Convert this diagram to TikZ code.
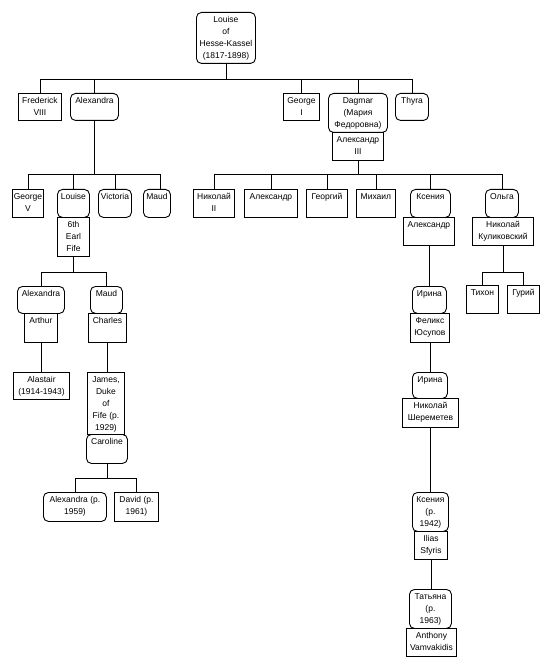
\documentclass[tikz,border=0pt]{standalone}
\usepackage{fontspec}
\setmainfont{Liberation Sans}
\usetikzlibrary{positioning}
\newcommand{\pcell}[3]{\parbox[c][#2pt][t]{#1pt}{\vspace*{1.5pt}\makebox[#1pt]{\begin{tabular}[t]{@{}c@{}}#3\end{tabular}}}}

\begin{document}
\begin{tikzpicture}[x=1pt,y=-1pt,
    font=\fontsize{8.5}{12}\selectfont,
    person/.style={draw,line width=0.9pt,inner sep=0pt,anchor=north west},
    fem/.style={person,rounded corners=5pt},
    mal/.style={person},
    link/.style={line width=0.9pt}]
  \useasboundingbox[fill=white] (0,0) rectangle (550,668);

  % --- Louise and her children ---
  \node[fem] (louise) at (196,12) {\pcell{59}{51}{Louise\\of\\Hesse-Kassel\\(1817-1898)}};
  \node[mal] (fred)    at (18,93)  {\pcell{43}{27}{Frederick\\VIII}};
  \node[fem] (alexa)   at (70,93)  {\pcell{48}{27}{Alexandra}};
  \node[mal] (george1) at (283,93) {\pcell{36}{27}{George\\I}};
  \node[fem] (dagmar)  at (328,93) {\pcell{59}{39}{Dagmar\\(Мария\\Федоровна)}};
  \node[fem] (thyra)   at (395,93) {\pcell{33}{27}{Thyra}};
  \node[mal] (alex3)   at (332,132) {\pcell{51}{28}{Александр\\III}};
  \coordinate (bar0) at (0,79);
  \draw[link] (louise.south) -- (louise.south |- bar0);
  \draw[link] (fred.north |- bar0) -- (thyra.north |- bar0);
  \foreach \c in {fred,alexa,george1,dagmar,thyra}
    \draw[link] (\c.north) -- (\c.north |- bar0);

  % --- Alexandra's children ---
  \node[mal] (georgev)  at (12,189)  {\pcell{31}{28}{George\\V}};
  \node[fem] (louise2)  at (57,189)  {\pcell{32}{28}{Louise}};
  \node[fem] (victoria) at (98,189)  {\pcell{33}{28}{Victoria}};
  \node[fem] (maud)     at (143,189) {\pcell{27}{28}{Maud}};
  \node[mal] (fife)     at (57,217)  {\pcell{32}{39}{6th\\Earl\\Fife}};
  \coordinate (bar1) at (0,174);
  \draw[link] (alexa.south) -- (alexa.south |- bar1);
  \draw[link] (georgev.north |- bar1) -- ([xshift=3pt]maud.north |- bar1);
  \foreach \c in {georgev,louise2,victoria}
    \draw[link] (\c.north) -- (\c.north |- bar1);
  \draw[link] ([xshift=3pt]maud.north) -- ([xshift=3pt]maud.north |- bar1);

  % --- Dagmar's children ---
  \node[mal] (nik2)    at (193,189) {\pcell{41}{28}{Николай\\II}};
  \node[mal] (alexr)   at (244,189) {\pcell{53}{28}{Александр}};
  \node[mal] (georgiy) at (306,189) {\pcell{41}{28}{Георгий}};
  \node[mal] (mikhail) at (356,189) {\pcell{39}{28}{Михаил}};
  \node[fem] (ksenia)  at (410,189) {\pcell{40}{28}{Ксения}};
  \node[mal] (alexm)   at (403,217) {\pcell{51}{28}{Александр}};
  \node[fem] (olga)    at (485,189) {\pcell{33}{28}{Ольга}};
  \node[mal] (kulik)   at (472,217) {\pcell{61}{28}{Николай\\Куликовский}};
  \draw[link] (alex3.south) -- (alex3.south |- bar1);
  \draw[link] (nik2.north |- bar1) -- (olga.north |- bar1);
  \foreach \c in {nik2,alexr,georgiy,mikhail,ksenia,olga}
    \draw[link] (\c.north) -- (\c.north |- bar1);

  % --- line of the Earl of Fife ---
  \node[fem] (alexandra2) at (17,286)  {\pcell{47}{27}{Alexandra}};
  \node[mal] (arthur)     at (24,313)  {\pcell{33}{29}{Arthur}};
  \node[fem] (maud2)      at (90,286)  {\pcell{32}{27}{Maud}};
  \node[mal] (charles)    at (88,313)  {\pcell{38}{29}{Charles}};
  \node[mal] (alastair)   at (13,372)  {\pcell{56}{27}{Alastair\\(1914-1943)}};
  \node[mal] (james)      at (87,372)  {\pcell{37}{62}{James,\\Duke\\of\\Fife (р.\\1929)}};
  \node[fem] (caroline)   at (86,434)  {\pcell{41}{29}{Caroline}};
  \node[fem] (alex59)     at (43,492)  {\pcell{63}{29}{Alexandra (р.\\1959)}};
  \node[mal] (david)      at (114,492) {\pcell{44}{29}{David (р.\\1961)}};
  \coordinate (bar2) at (0,272);
  \draw[link] (fife.south) -- (fife.south |- bar2);
  \draw[link] (alexandra2.north |- bar2) -- (maud2.north |- bar2);
  \foreach \c in {alexandra2,maud2}
    \draw[link] (\c.north) -- (\c.north |- bar2);
  \draw[link] (arthur.south) -- (arthur.south |- alastair.north);
  \draw[link] (charles.south) -- (charles.south |- james.north);
  \coordinate (bar3) at (0,478);
  \draw[link] (caroline.south) -- (caroline.south |- bar3);
  \draw[link] (alex59.north |- bar3) -- (david.north |- bar3);
  \foreach \c in {alex59,david}
    \draw[link] (\c.north) -- (\c.north |- bar3);

  % --- line of Ксения ---
  \node[fem] (irina)   at (412,286) {\pcell{34}{27}{Ирина}};
  \node[mal] (felix)   at (410,313) {\pcell{39}{29}{Феликс\\Юсупов}};
  \node[fem] (irina2)  at (412,372) {\pcell{35}{26}{Ирина}};
  \node[mal] (sherem)  at (402,398) {\pcell{56}{29}{Николай\\Шереметев}};
  \node[fem] (ksenia2) at (412,492) {\pcell{36}{39}{Ксения\\(р.\\1942)}};
  \node[mal] (ilias)   at (414,531) {\pcell{33}{28}{Ilias\\Sfyris}};
  \node[fem] (tatiana) at (409,589) {\pcell{42}{39}{Татьяна\\(р.\\1963)}};
  \node[mal] (anthony) at (406,628) {\pcell{50}{28}{Anthony\\Vamvakidis}};
  \draw[link] (alexm.south) -- (alexm.south |- irina.north);
  \draw[link] (felix.south) -- (felix.south |- irina2.north);
  \draw[link] (sherem.south) -- (sherem.south |- ksenia2.north);
  \draw[link] (ilias.south) -- (ilias.south |- tatiana.north);

  % --- line of Ольга ---
  \node[mal] (tikhon) at (466,285) {\pcell{32}{28}{Тихон}};
  \node[mal] (guriy)  at (507,285) {\pcell{32}{28}{Гурий}};
  \draw[link] (kulik.south) -- (kulik.south |- bar2);
  \draw[link] (tikhon.north |- bar2) -- (guriy.north |- bar2);
  \foreach \c in {tikhon,guriy}
    \draw[link] (\c.north) -- (\c.north |- bar2);
\end{tikzpicture}
\end{document}
